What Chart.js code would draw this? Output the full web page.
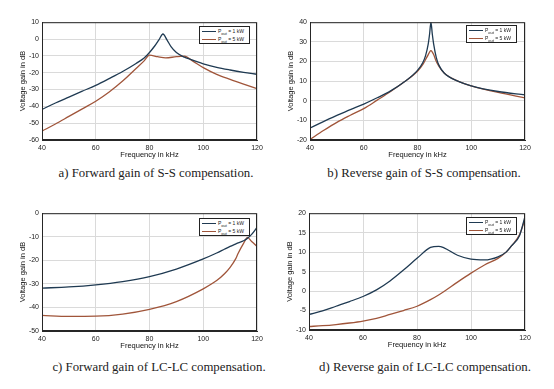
<!DOCTYPE html>
<html>
<head>
<meta charset="utf-8">
<script src="https://cdn.jsdelivr.net/npm/chart.js@4.4.1/dist/chart.umd.min.js"></script>
<style>
body { margin: 0; width: 554px; height: 389px; background: #fff; position: relative; overflow: hidden; font-family: "Liberation Sans", Arial, sans-serif; }
.panel { position: absolute; }
.caption { position: absolute; font-family: "Liberation Serif", "Times New Roman", serif; font-size: 12.8px; color: #222; white-space: nowrap; transform: translate(-50%, -50%); }
.legend { position: absolute; border: 1px solid #222; background: #fff; width: 51px; height: 18px; box-sizing: border-box; font-size: 5px; color: #222; }
.legend .row { position: absolute; left: 2px; height: 7px; display: flex; align-items: center; }
.legend .sample { width: 14px; height: 0; border-top: 1px solid; margin-right: 2px; }
.legend sub { font-size: 4px; }
</style>
</head>
<body>

<div class="panel" id="boxA" style="left:18px; top:15px; width:249px; height:144px;"><canvas id="forwardSS"></canvas></div>
<div class="panel" id="boxB" style="left:286px; top:15px; width:249px; height:144px;"><canvas id="reverseSS"></canvas></div>
<div class="panel" id="boxC" style="left:18px; top:206px; width:249px; height:144px;"><canvas id="forwardLCLC"></canvas></div>
<div class="panel" id="boxD" style="left:285px; top:206px; width:250px; height:143px;"><canvas id="reverseLCLC"></canvas></div>

<div class="caption" style="left:156px; top:173px;">a) Forward gain of S-S compensation.</div>
<div class="caption" style="left:424px; top:173px;">b) Reverse gain of S-S compensation.</div>
<div class="caption" style="left:159px; top:367px;">c) Forward gain of LC-LC compensation.</div>
<div class="caption" style="left:425px; top:367px;">d) Reverse gain of LC-LC compensation.</div>

<div id="legends"></div>

<script>
// colours of the two load cases
var colorLow = '#1f3a52';
var colorHigh = '#a0553a';
var legendLabels = ['1 kW', '5 kW'];

// a) forward gain, S-S
var freqA1 = [40, 45, 50, 55, 60, 65, 70, 75, 78, 80, 82, 83.5, 85, 86.5, 88, 90, 93, 95, 100, 105, 110, 115, 120];
var gainA1 = [-41.8, -38, -34.5, -31, -27.5, -23.5, -19.3, -14.5, -11.3, -8, -4, -0.5, 3, -0.5, -4.5, -8, -10.8, -12, -14.7, -16.8, -18.4, -19.8, -21];
var freqA5 = [40, 45, 50, 55, 60, 65, 70, 75, 78, 80, 83, 86, 90, 93, 96, 100, 105, 110, 115, 120];
var gainA5 = [-54.7, -50.5, -46, -41.5, -37, -31.5, -25, -17.5, -13, -9.6, -10.5, -11.2, -10.5, -10.2, -13, -17, -21, -24, -26.8, -29.5];

// b) reverse gain, S-S
var freqB = [40, 45, 50, 55, 60, 65, 70, 75, 80, 82, 83, 84, 84.5, 85, 85.5, 86, 87, 88, 90, 95, 100, 110, 120];
var gainB1 = [-13.9, -10.6, -7.5, -4.5, -1.7, 1.5, 5, 9.5, 15.5, 19.5, 23, 29, 34, 40, 34, 29, 22, 18, 14, 10, 7.6, 4.7, 3];
var gainB5 = [-19.7, -15.2, -11, -7.4, -4, 0.3, 4.7, 9.5, 15, 18.5, 21, 23.5, 24.8, 25.5, 24.8, 23.5, 20, 17.5, 14, 10, 7.6, 4.2, 1.5];

// c) forward gain, LC-LC
var freqC = [40, 50, 60, 70, 80, 90, 100, 105, 108, 110, 112, 113, 115, 116.5, 118, 120];
var gainC1 = [-31.8, -31.3, -30.4, -29, -26.9, -23.7, -19.4, -16.9, -15.2, -14.1, -13.1, -12.6, -11.7, -10.6, -9, -6];
var gainC5 = [-43.4, -43.8, -43.7, -42.8, -40.8, -37.5, -32.1, -28.6, -25.6, -23, -19.5, -17, -12.8, -10.3, -12, -14];

// d) reverse gain, LC-LC
var freqD = [40, 45, 50, 55, 60, 65, 70, 75, 80, 85, 88, 90, 95, 100, 105, 110, 113, 115, 118, 120];
var gainD1 = [-6, -5.1, -3.9, -2.7, -1.4, 0.3, 2.6, 5.4, 8.4, 11.2, 11.5, 11.1, 9.2, 8.2, 8, 8.8, 10, 11.6, 14.3, 19.2];
var gainD5 = [-9.1, -8.9, -8.6, -8.2, -7.7, -7, -6, -5, -3.9, -2.2, -1, -0.1, 2.3, 4.6, 6.7, 8.4, 10, 11.6, 14.5, 18.5];

var freqTicks = [40, 60, 80, 100, 120];

function toPoints(xs, ys) {
    return xs.map(function (x, i) { return { x: x, y: ys[i] }; });
}

function lineSet(label, xs, ys, color) {
    return {
        label: label,
        data: toPoints(xs, ys),
        borderColor: color,
        borderWidth: 1.3,
        pointRadius: 0,
        fill: false,
        cubicInterpolationMode: 'monotone'
    };
}

// black frame round the plot area, like a matlab axes box
var frameBox = {
    id: 'frameBox',
    afterDraw: function (chart) {
        var a = chart.chartArea;
        var ctx = chart.ctx;
        ctx.save();
        ctx.strokeStyle = '#262626';
        ctx.lineWidth = 1;
        ctx.strokeRect(a.left + 0.5, a.top + 0.5, a.right - a.left - 1, a.bottom - a.top - 1);
        ctx.restore();
    }
};

function makeOptions(yMin, yMax, yStep) {
    var tickFont = { family: '"Liberation Sans", Arial, sans-serif', size: 7 };
    var titleFont = { family: '"Liberation Sans", Arial, sans-serif', size: 7.5 };
    return {
        responsive: true,
        maintainAspectRatio: false,
        animation: false,
        layout: { padding: { top: 6, right: 10, left: 0, bottom: 0 } },
        plugins: { legend: { display: false }, tooltip: { enabled: false } },
        scales: {
            x: {
                type: 'linear',
                min: 40,
                max: 120,
                afterBuildTicks: function (s) { s.ticks = freqTicks.map(function (v) { return { value: v }; }); },
                afterFit: function (s) { s.height = 19; },
                grid: { color: '#dadada', drawTicks: false },
                border: { color: '#262626' },
                ticks: { font: tickFont, color: '#222', padding: 4, maxRotation: 0 },
                title: { display: true, text: 'Frequency in kHz', font: titleFont, color: '#111', padding: 0 }
            },
            y: {
                min: yMin,
                max: yMax,
                afterFit: function (s) { s.width = 24; },
                grid: { color: '#dadada', drawTicks: false },
                border: { color: '#262626' },
                ticks: { stepSize: yStep, font: tickFont, color: '#222', padding: 3 },
                title: { display: true, text: 'Voltage gain in dB', font: titleFont, color: '#111', padding: 0 }
            }
        }
    };
}

var panels = [
    { canvas: 'forwardSS', x1: freqA1, y1: gainA1, x5: freqA5, y5: gainA5, min: -60, max: 10, step: 10, legend: [199, 26] },
    { canvas: 'reverseSS', x1: freqB, y1: gainB1, x5: freqB, y5: gainB5, min: -20, max: 40, step: 10, legend: [466, 25] },
    { canvas: 'forwardLCLC', x1: freqC, y1: gainC1, x5: freqC, y5: gainC5, min: -50, max: 0, step: 10, legend: [199, 218] },
    { canvas: 'reverseLCLC', x1: freqD, y1: gainD1, x5: freqD, y5: gainD5, min: -10, max: 20, step: 5, legend: [466, 217] }
];

var charts = [];
var legendHolder = document.getElementById('legends');

panels.forEach(function (p) {
    var ctx = document.getElementById(p.canvas).getContext('2d');
    charts.push(new Chart(ctx, {
        type: 'line',
        data: {
            datasets: [
                lineSet('Pout = ' + legendLabels[0], p.x1, p.y1, colorLow),
                lineSet('Pout = ' + legendLabels[1], p.x5, p.y5, colorHigh)
            ]
        },
        options: makeOptions(p.min, p.max, p.step),
        plugins: [frameBox]
    }));

    // small boxed legend in the upper right corner
    var box = document.createElement('div');
    box.className = 'legend';
    box.style.left = p.legend[0] + 'px';
    box.style.top = p.legend[1] + 'px';
    [colorLow, colorHigh].forEach(function (c, i) {
        var row = document.createElement('div');
        row.className = 'row';
        row.style.top = (1 + i * 8) + 'px';
        row.innerHTML = '<span class="sample" style="border-color:' + c + '"></span>' +
            '<span>P<sub>out</sub> = ' + legendLabels[i] + '</span>';
        box.appendChild(row);
    });
    legendHolder.appendChild(box);
});
</script>
</body>
</html>
